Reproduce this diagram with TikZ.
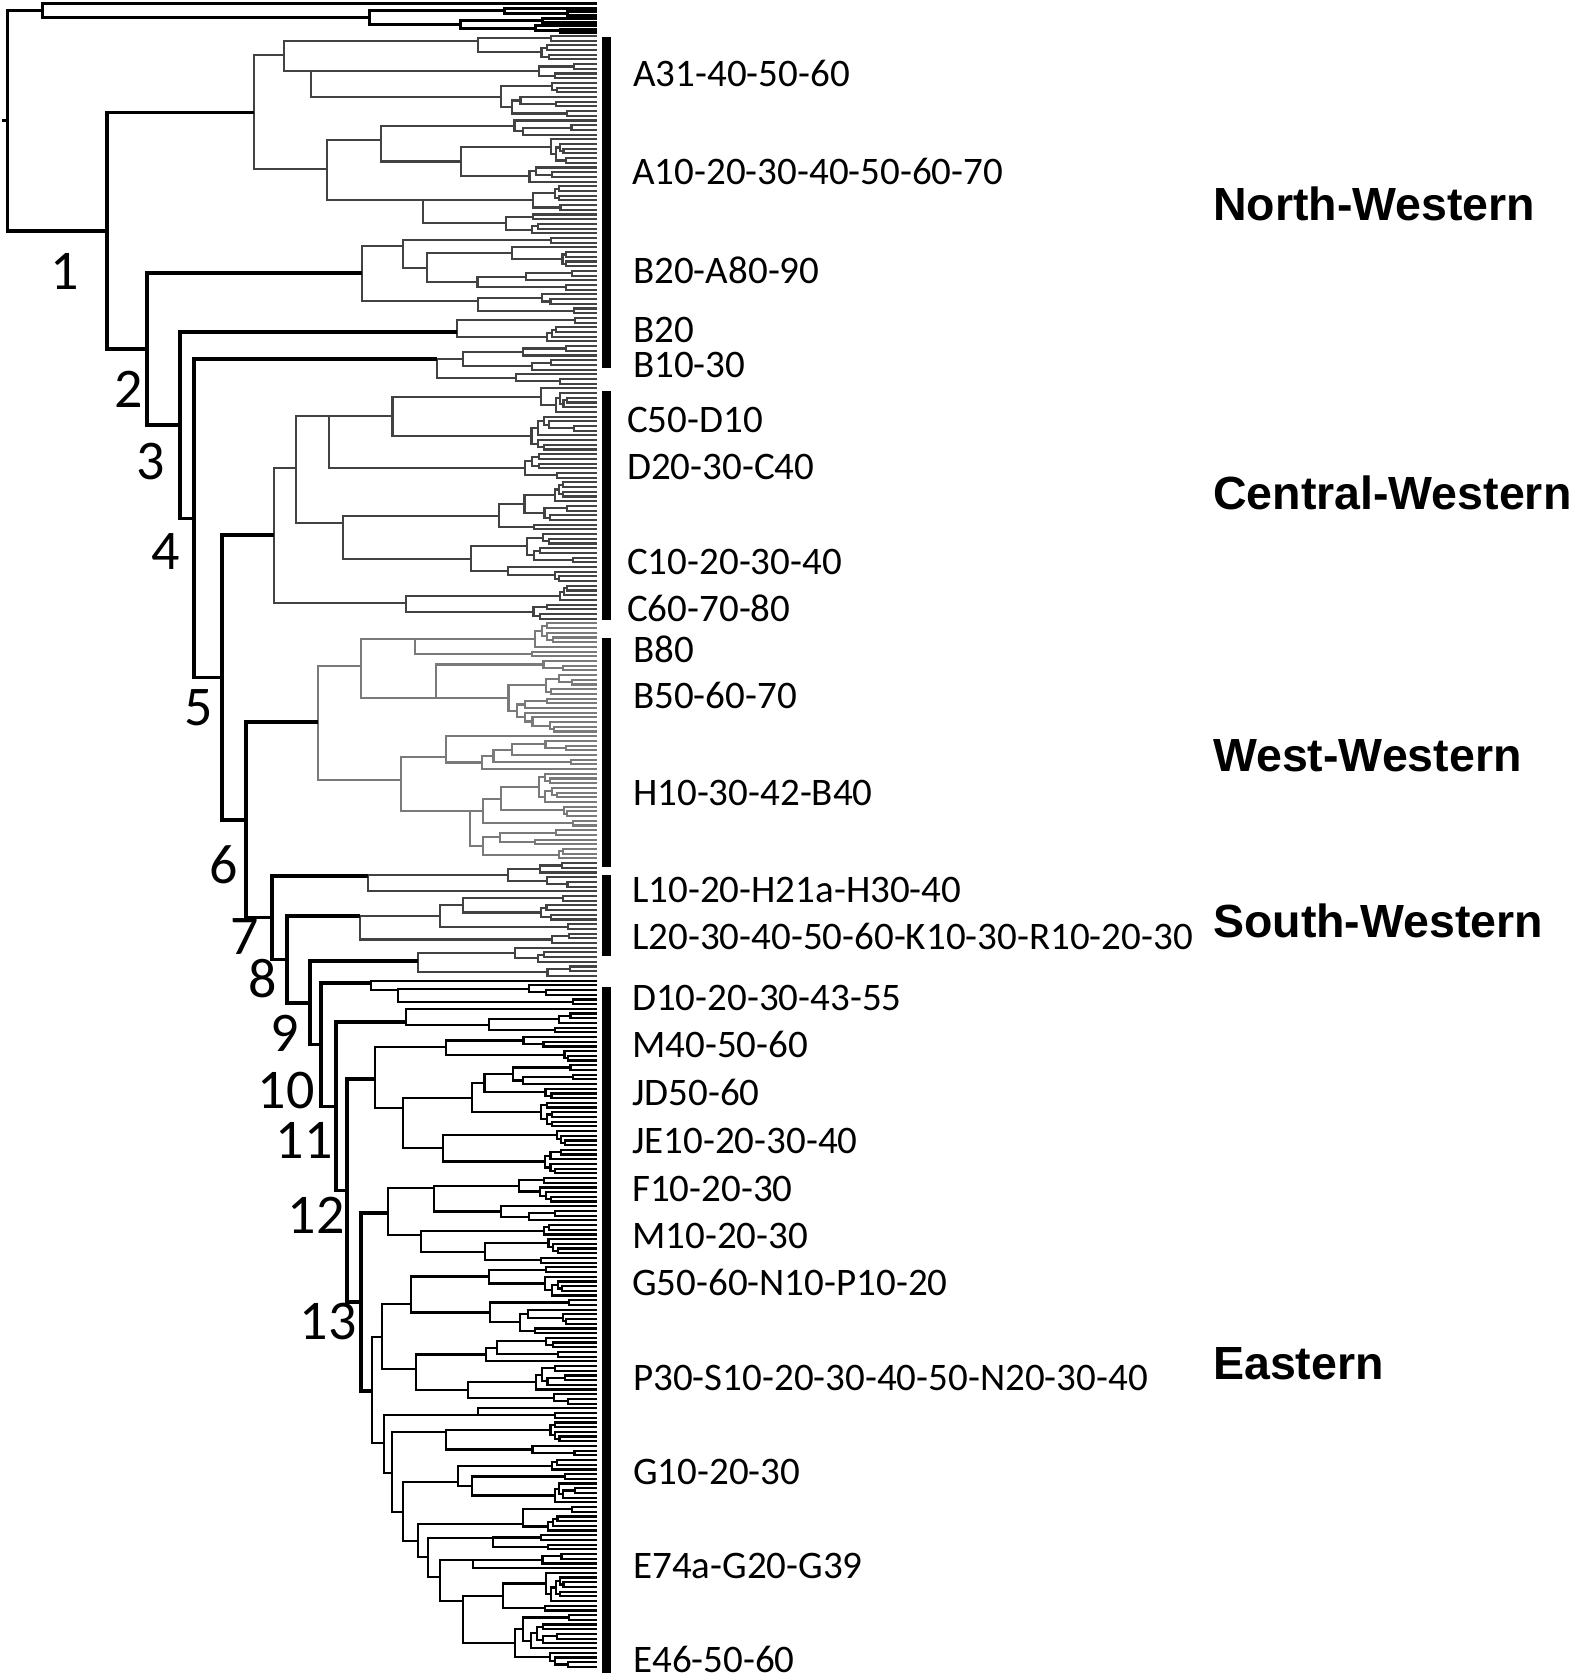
\documentclass[tikz,border=0pt]{standalone}
\usepackage{fontspec}
\setmainfont{Carlito}
\newfontfamily\headfont{Liberation Sans}
\newcommand\XR{597}
\newcommand\Yo{3}
\newcommand\Ls{4.7}
\tikzset{
 bb/.style={line width=3.4pt, black},
 og/.style={line width=3pt, black},
 dk/.style={line width=2.1pt, black!74},
 ww/.style={line width=2.1pt, black!52},
 ea/.style={line width=2.2pt, black},
 cur/.style={dk},
 lab/.style={inner sep=0pt, anchor=base west, font=\fontsize{39}{40}\selectfont},
 reg/.style={inner sep=0pt, anchor=base west, font=\headfont\bfseries\fontsize{46.5}{48}\selectfont},
 num/.style={inner sep=0pt, font=\fontsize{56}{58}\selectfont},
 bar/.style={fill=black, draw=none}
}
\newcommand\setnode[3]{%
  \expandafter\xdef\csname NX@#1\endcsname{#2}%
  \expandafter\xdef\csname NY@#1\endcsname{#3}%
  \coordinate (#1) at (#2,#3);}
% random clade: node x, first leaf, last leaf, forced y (or empty)
\newcommand\rcl[4]{%
 \begingroup
 \edef\rcX{#1}\edef\rcA{#2}\edef\rcB{#3}\edef\rcT{#4}%
 \ifnum\rcA=\rcB\relax
   \pgfmathsetmacro\rcY{\Yo+\rcA*\Ls}%
   \xdef\rcRet{\rcY}%
 \else
   \pgfmathtruncatemacro\rcK{\rcA+(\rcB-\rcA)*(0.1+0.8*rnd)}%
   \pgfmathtruncatemacro\rcKp{\rcK+1}%
   \ifnum\rcA=\rcK\relax \edef\rcXa{\XR}\else
     \pgfmathsetmacro\rcXa{\XR-min(0.9*(\XR-\rcX),28*(\rcK-\rcA+1)^0.65*(0.5+1.0*rnd))}\fi
   \ifnum\rcKp=\rcB\relax \edef\rcXb{\XR}\else
     \pgfmathsetmacro\rcXb{\XR-min(0.9*(\XR-\rcX),28*(\rcB-\rcKp+1)^0.65*(0.5+1.0*rnd))}\fi
   \rcl{\rcXa}{\rcA}{\rcK}{}\let\rcYa\rcRet
   \rcl{\rcXb}{\rcKp}{\rcB}{}\let\rcYb\rcRet
   \draw[cur] (\rcXa,\rcYa) -- (\rcX,\rcYa) -- (\rcX,\rcYb) -- (\rcXb,\rcYb);
   \ifx\rcT\empty \pgfmathsetmacro\rcY{(\rcYa+\rcYb)/2}\else \pgfmathsetmacro\rcY{max(min(\rcT,\rcYb),\rcYa)}\fi
   \xdef\rcRet{\rcY}%
 \fi
 \endgroup}
\newcommand\sub[5]{%
  \rcl{#2}{#3}{#4}{#5}%
  \ifnum#3=#4\relax\setnode{#1}{\XR}{\rcRet}\else\setnode{#1}{#2}{\rcRet}\fi}
\newcommand\jn[6][cur]{%
  \edef\jnYa{\csname NY@#4\endcsname}%
  \edef\jnYb{\csname NY@#5\endcsname}%
  \draw[#1] (#4) -- (#3,\jnYa) -- (#3,\jnYb) -- (#5);
  \def\jnT{#6}%
  \ifx\jnT\empty\pgfmathsetmacro\jnY{(\jnYa+\jnYb)/2}\else\pgfmathsetmacro\jnY{max(min(#6,\jnYb),\jnYa)}\fi
  \setnode{#2}{#3}{\jnY}}
\begin{document}
\begin{tikzpicture}[x=1pt,y=-1pt,line join=miter]
\useasboundingbox (0,0) rectangle (1575,1679);
\pgfmathsetseed{4242}
% ---------------- North-Western
\tikzset{cur/.style={dk}}
\sub{nwU1}{478}{7}{12}{40.7}
\sub{nwU2}{311}{13}{24}{70.7}
\jn{nwU}{284}{nwU1}{nwU2}{55}
\sub{nwL1}{381}{25}{38}{140}
\sub{nwL2}{423}{39}{49}{197}
\jn{nwL}{327}{nwL1}{nwL2}{169}
\jn{NWA}{254}{nwU}{nwL}{112.7}
\sub{ba1}{403}{50}{61}{246}
\sub{ba2}{478}{62}{66}{301}
\jn{BA}{362}{ba1}{ba2}{273}
\sub{B20}{457}{67}{72}{332}
\sub{B1030}{437}{73}{81}{357}
% ---------------- Central-Western
\sub{cwUU}{329}{82}{101}{413}
\sub{cwUL}{343}{102}{123}{523}
\jn{cwU}{296}{cwUU}{cwUL}{468}
\sub{cwL}{406}{124}{131}{603}
\jn{CW}{274}{cwU}{cwL}{535}
% ---------------- West-Western
\tikzset{cur/.style={ww}}
\sub{wwUU}{415}{132}{139}{633}
\sub{wwUL}{436}{140}{155}{698}
\jn{wwU}{361}{wwUU}{wwUL}{666}
\sub{wwLU}{446}{156}{163}{757}
\sub{wwLL}{470}{164}{182}{800}
\jn{wwL}{401}{wwLU}{wwLL}{780}
\jn{WW}{318}{wwU}{wwL}{722}
% ---------------- South-Western
\tikzset{cur/.style={dk}}
\sub{SW1}{368}{183}{189}{876}
\sub{SW2}{360}{190}{200}{908}
\sub{SW3}{418}{201}{207}{961}
% ---------------- Eastern
\tikzset{cur/.style={ea}}
\sub{eaL}{\XR}{208}{208}{}
\sub{eaR}{398}{209}{213}{990}
\jn{Ea}{371}{eaL}{eaR}{983}
\sub{Eb}{406}{214}{219}{1022}
\sub{ec1}{446}{220}{225}{1047}
\sub{ec2}{403}{226}{249}{1108}
\jn{Ec}{375}{ec1}{ec2}{1079}
\sub{ed1}{434}{250}{259}{1188}
\sub{ed2}{421}{260}{268}{1235}
\jn{Ed}{388}{ed1}{ed2}{1213}
\sub{eeU1}{411}{269}{283}{1304}
\sub{eeU2}{416}{284}{298}{1369}
\jn{eeU}{382}{eeU1}{eeU2}{1337}
\sub{el1}{478}{299}{301}{1416}
\sub{el2}{446}{302}{309}{1432}
\sub{el3}{458}{310}{319}{1482}
\sub{el4}{523}{320}{325}{1524}
\sub{el5}{493}{326}{329}{1538}
\sub{el6}{473}{330}{333}{1552}
\sub{el7}{463}{334}{354}{1601}
\jn{ek6}{440}{el6}{el7}{1577}
\jn{ek5}{428}{el5}{ek6}{1557}
\jn{ek4}{418}{el4}{ek5}{1541}
\jn{ek3}{403}{el3}{ek4}{1512}
\jn{ek2}{392}{el2}{ek3}{1473}
\jn{ek1}{384}{el1}{ek2}{1443}
\jn{Ee}{372}{eeU}{ek1}{1391}
% ---------------- outgroup
\setnode{o0}{\XR}{3.5}
\setnode{o1}{\XR}{8}
\setnode{o2}{\XR}{11.5}
\setnode{o3}{\XR}{15}
\setnode{o4}{\XR}{18.5}
\setnode{o5}{\XR}{22}
\setnode{o6}{\XR}{25.5}
\setnode{o7}{\XR}{29}
\setnode{o8}{\XR}{32.5}
\jn[og]{oA}{567}{o2}{o3}{}
\jn[og]{oB}{504}{o1}{oA}{}
\jn[og]{oC}{542}{o4}{o5}{}
\jn[og]{oD}{560}{o7}{o8}{}
\jn[og]{oE}{535}{o6}{oD}{}
\jn[og]{oF}{460}{oC}{oE}{}
\jn[og]{oG}{369}{oB}{oF}{}
\jn[og]{oH}{42}{o0}{oG}{}
% ---------------- backbone
\jn[bb]{N13}{361}{Ed}{Ee}{}
\jn[bb]{N12}{347}{Ec}{N13}{}
\jn[bb]{N11}{336}{Eb}{N12}{}
\jn[bb]{N10}{321}{Ea}{N11}{}
\jn[bb]{N9}{310}{SW3}{N10}{}
\jn[bb]{N8}{287}{SW2}{N9}{}
\jn[bb]{N7}{272}{SW1}{N8}{}
\jn[bb]{N6}{246}{WW}{N7}{}
\jn[bb]{N5}{222}{CW}{N6}{}
\jn[bb]{N4}{194}{B1030}{N5}{}
\jn[bb]{N3}{180}{B20}{N4}{}
\jn[bb]{N2}{147}{BA}{N3}{}
\jn[bb]{N1}{107}{NWA}{N2}{}
\jn[bb]{root}{7.7}{oH}{N1}{}
\edef\rootY{\csname NY@root\endcsname}
\coordinate (rtick) at (2,\rootY);
\draw[bb] (rtick) -- (root);
% ---------------- bars
\fill[bar] (601.5,37) rectangle (610.5,368);
\fill[bar] (601.5,391) rectangle (610.5,620);
\fill[bar] (601.5,638) rectangle (610.5,867);
\fill[bar] (601.5,875) rectangle (610.5,956);
\fill[bar] (601.5,987) rectangle (610.5,1673);
% ---------------- split numbers
\node[num] (n1) at (65,271) {1};
\node[num] (n2) at (129,389) {2};
\node[num] (n3) at (151,462) {3};
\node[num] (n4) at (166,552) {4};
\node[num] (n5) at (199,708) {5};
\node[num] (n6) at (224,865) {6};
\node[num] (n7) at (245,937) {7};
\node[num] (n8) at (263,979) {8};
\node[num] (n9) at (285,1033) {9};
\node[num] (n10) at (286,1091) {10};
\node[num] (n11) at (304,1140) {11};
\node[num] (n12) at (316,1215) {12};
\node[num] (n13) at (328,1322) {13};
% ---------------- leaf group labels
\node[lab] (t1) at (633,86) {A31-40-50-60};
\node[lab] (t2) at (632,184) {A10-20-30-40-50-60-70};
\node[lab] (t3) at (633,283) {B20-A80-90};
\node[lab] (t4) at (633,342) {B20};
\node[lab] (t5) at (633,377) {B10-30};
\node[lab] (t6) at (627,432) {C50-D10};
\node[lab] (t7) at (627,479) {D20-30-C40};
\node[lab] (t8) at (627,574) {C10-20-30-40};
\node[lab] (t9) at (627,621) {C60-70-80};
\node[lab] (t10) at (633,662) {B80};
\node[lab] (t11) at (633,708) {B50-60-70};
\node[lab] (t12) at (633,805) {H10-30-42-B40};
\node[lab] (t13) at (632,902) {L10-20-H21a-H30-40};
\node[lab] (t14) at (632,949) {L20-30-40-50-60-K10-30-R10-20-30};
\node[lab] (t15) at (632,1010) {D10-20-30-43-55};
\node[lab] (t16) at (632,1057) {M40-50-60};
\node[lab] (t17) at (632,1105) {JD50-60};
\node[lab] (t18) at (632,1153) {JE10-20-30-40};
\node[lab] (t19) at (632,1201) {F10-20-30};
\node[lab] (t20) at (632,1248) {M10-20-30};
\node[lab] (t21) at (632,1295) {G50-60-N10-P10-20};
\node[lab] (t22) at (633,1390) {P30-S10-20-30-40-50-N20-30-40};
\node[lab] (t23) at (633,1484) {G10-20-30};
\node[lab] (t24) at (633,1578) {E74a-G20-G39};
\node[lab] (t25) at (633,1672) {E46-50-60};
% ---------------- region labels
\node[reg] (rNW) at (1213,220) {North-Western};
\node[reg] (rCW) at (1213,509) {Central-Western};
\node[reg] (rWW) at (1213,771) {West-Western};
\node[reg] (rSW) at (1213,937) {South-Western};
\node[reg] (rE) at (1213,1379) {Eastern};
\end{tikzpicture}
\end{document}
